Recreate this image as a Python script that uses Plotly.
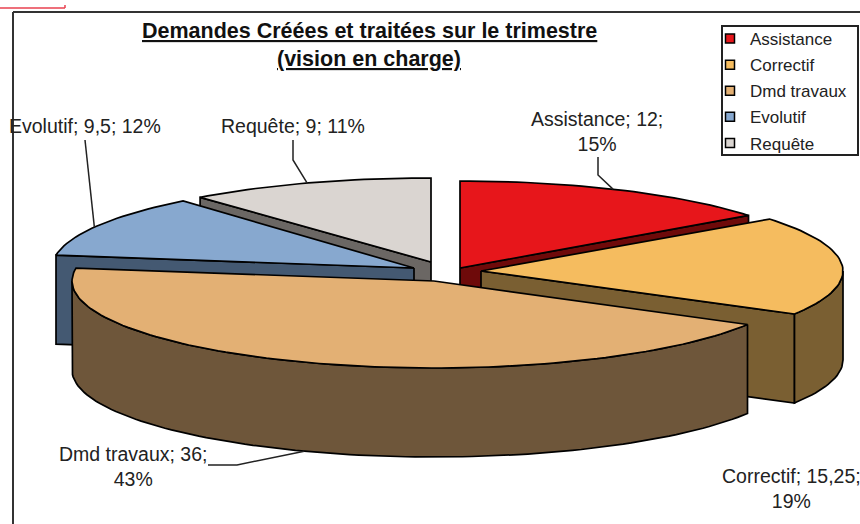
import math
import plotly.graph_objects as go

# ---------- data ----------
categories = ["Assistance", "Correctif", "Dmd travaux", "Evolutif", "Requête"]
values = [12, 15.25, 36, 9.5, 9]
percents = [15, 19, 43, 12, 11]

# ---------- styling ----------
top_colors = ["#E7161B", "#F5BC5F", "#E3B074", "#87A8CF", "#DAD5D1"]
wall_colors = ["#6E0A0A", "#7A5F32", "#6E563A", "#445972", "#6B6764"]
apex_x = [460, 481, 434, 414, 431]
apex_y = [268, 271, 281, 268, 262]
radius_y = [87, 86, 87, 87, 84]
RX, DEPTH = 362, 89
draw_order = [4, 3, 0, 1, 2]
LW = 1.7

label_x = [597, 791, 133, 85, 293]
label_y = [131, 488, 466, 126, 126]
leader_x = [[598, 598], [], [208, 237], [85, 88], [293, 293]]
leader_y = [[157, 175], [], [465, 465], [140, 170], [140, 160]]
leader_angle = [25, None, 201, 298, 340]


def fmt(v):
    return str(v).replace(".", ",")


total = sum(values)
starts, ends = [], []
a = 0.0
for v in values:
    starts.append(a)
    a += v / total * 360
    ends.append(a)


def pt(i, ang, drop=0):
    t = math.radians(ang)
    return apex_x[i] + RX * math.sin(t), apex_y[i] - radius_y[i] * math.cos(t) + drop


def poly(xs_ys, color, name):
    xs = [p[0] for p in xs_ys] + [xs_ys[0][0]]
    ys = [p[1] for p in xs_ys] + [xs_ys[0][1]]
    return go.Scatter(x=xs, y=ys, mode="lines", fill="toself", fillcolor=color,
                      line=dict(color="#000000", width=LW), hoverinfo="text",
                      text=name, showlegend=False)


def arc(i, a0, a1, drop=0):
    n = max(2, int(abs(a1 - a0) / 1.5))
    return [pt(i, a0 + (a1 - a0) * k / n, drop) for k in range(n + 1)]


fig = go.Figure()

for i in draw_order:
    name = f"{categories[i]}; {fmt(values[i])}; {percents[i]}%"
    s, e = starts[i], ends[i]
    apex = (apex_x[i], apex_y[i])
    apex_d = (apex_x[i], apex_y[i] + DEPTH)
    if 180 < s < 360:
        fig.add_trace(poly([apex, pt(i, s), pt(i, s, DEPTH), apex_d], wall_colors[i], name))
    if 0 < e < 180:
        fig.add_trace(poly([apex, pt(i, e), pt(i, e, DEPTH), apex_d], wall_colors[i], name))
    w0, w1 = max(s, 90), min(e, 270)
    if w1 > w0:
        fig.add_trace(poly(arc(i, w0, w1) + arc(i, w1, w0, DEPTH), wall_colors[i], name))
    fig.add_trace(poly([apex] + arc(i, s, e), top_colors[i], name))

# legend entries
for i, c in enumerate(categories):
    fig.add_trace(go.Scatter(x=[None], y=[None], mode="markers", name=c, legendgroup=c,
                             marker=dict(symbol="square", size=9, color=top_colors[i],
                                         line=dict(color="#000000", width=1.5))))

# leaders
for i in range(len(categories)):
    if not leader_x[i]:
        continue
    px, py = pt(i, leader_angle[i])
    if 90 < leader_angle[i] < 270:
        py += DEPTH
    fig.add_trace(go.Scatter(x=leader_x[i] + [px], y=leader_y[i] + [py], mode="lines",
                             line=dict(color="#222222", width=1.5), hoverinfo="skip",
                             showlegend=False))

annotations = []
for i, c in enumerate(categories):
    if c in ("Evolutif", "Requête"):
        txt = f"{c}; {fmt(values[i])}; {percents[i]}%"
    else:
        txt = f"{c}; {fmt(values[i])};<br>{percents[i]}%"
    annotations.append(dict(x=label_x[i], y=label_y[i], xref="x", yref="y", text=txt,
                            showarrow=False, align="center",
                            font=dict(family="Liberation Sans", size=19.5, color="#222222")))

title_lines = ["Demandes Créées et traitées sur le trimestre", "(vision en charge)"]
for t, y in zip(title_lines, [31, 59]):
    annotations.append(dict(x=369, y=y, xref="x", yref="y", text=f"<u><b>{t}</b></u>",
                            showarrow=False,
                            font=dict(family="Liberation Sans", size=21.5, color="#111111")))

shapes = [
    dict(type="line", x0=13, x1=13, y0=12, y1=524, line=dict(color="#333333", width=2)),
    dict(type="line", x0=13, x1=860, y0=12, y1=12, line=dict(color="#333333", width=2)),
    dict(type="line", x0=0, x1=65, y0=8, y1=8, line=dict(color="#E8414F", width=1.5)),
    dict(type="line", x0=65, x1=65, y0=5, y1=8, line=dict(color="#E8414F", width=1.5)),
    dict(type="rect", x0=722, x1=858, y0=26, y1=155, layer="below",
         fillcolor="white", line=dict(color="#222222", width=2)),
]

fig.update_layout(
    width=860, height=524, margin=dict(l=0, r=0, t=0, b=0, autoexpand=False),
    paper_bgcolor="white", plot_bgcolor="white",
    xaxis=dict(range=[0, 860], visible=False, fixedrange=True),
    yaxis=dict(range=[524, 0], visible=False, fixedrange=True),
    annotations=annotations, shapes=shapes,
    showlegend=True,
    legend=dict(x=710 / 860, y=1 - 21 / 524, xanchor="left", yanchor="top",
                bgcolor="rgba(0,0,0,0)", borderwidth=0,
                tracegroupgap=1, entrywidth=100, entrywidthmode="pixels",
                font=dict(family="Liberation Sans", size=17, color="#222222")),
)

fig.write_html("out.html", config={"displayModeBar": False},
               post_script="document.body.style.margin='0';document.body.style.overflow='hidden';")
